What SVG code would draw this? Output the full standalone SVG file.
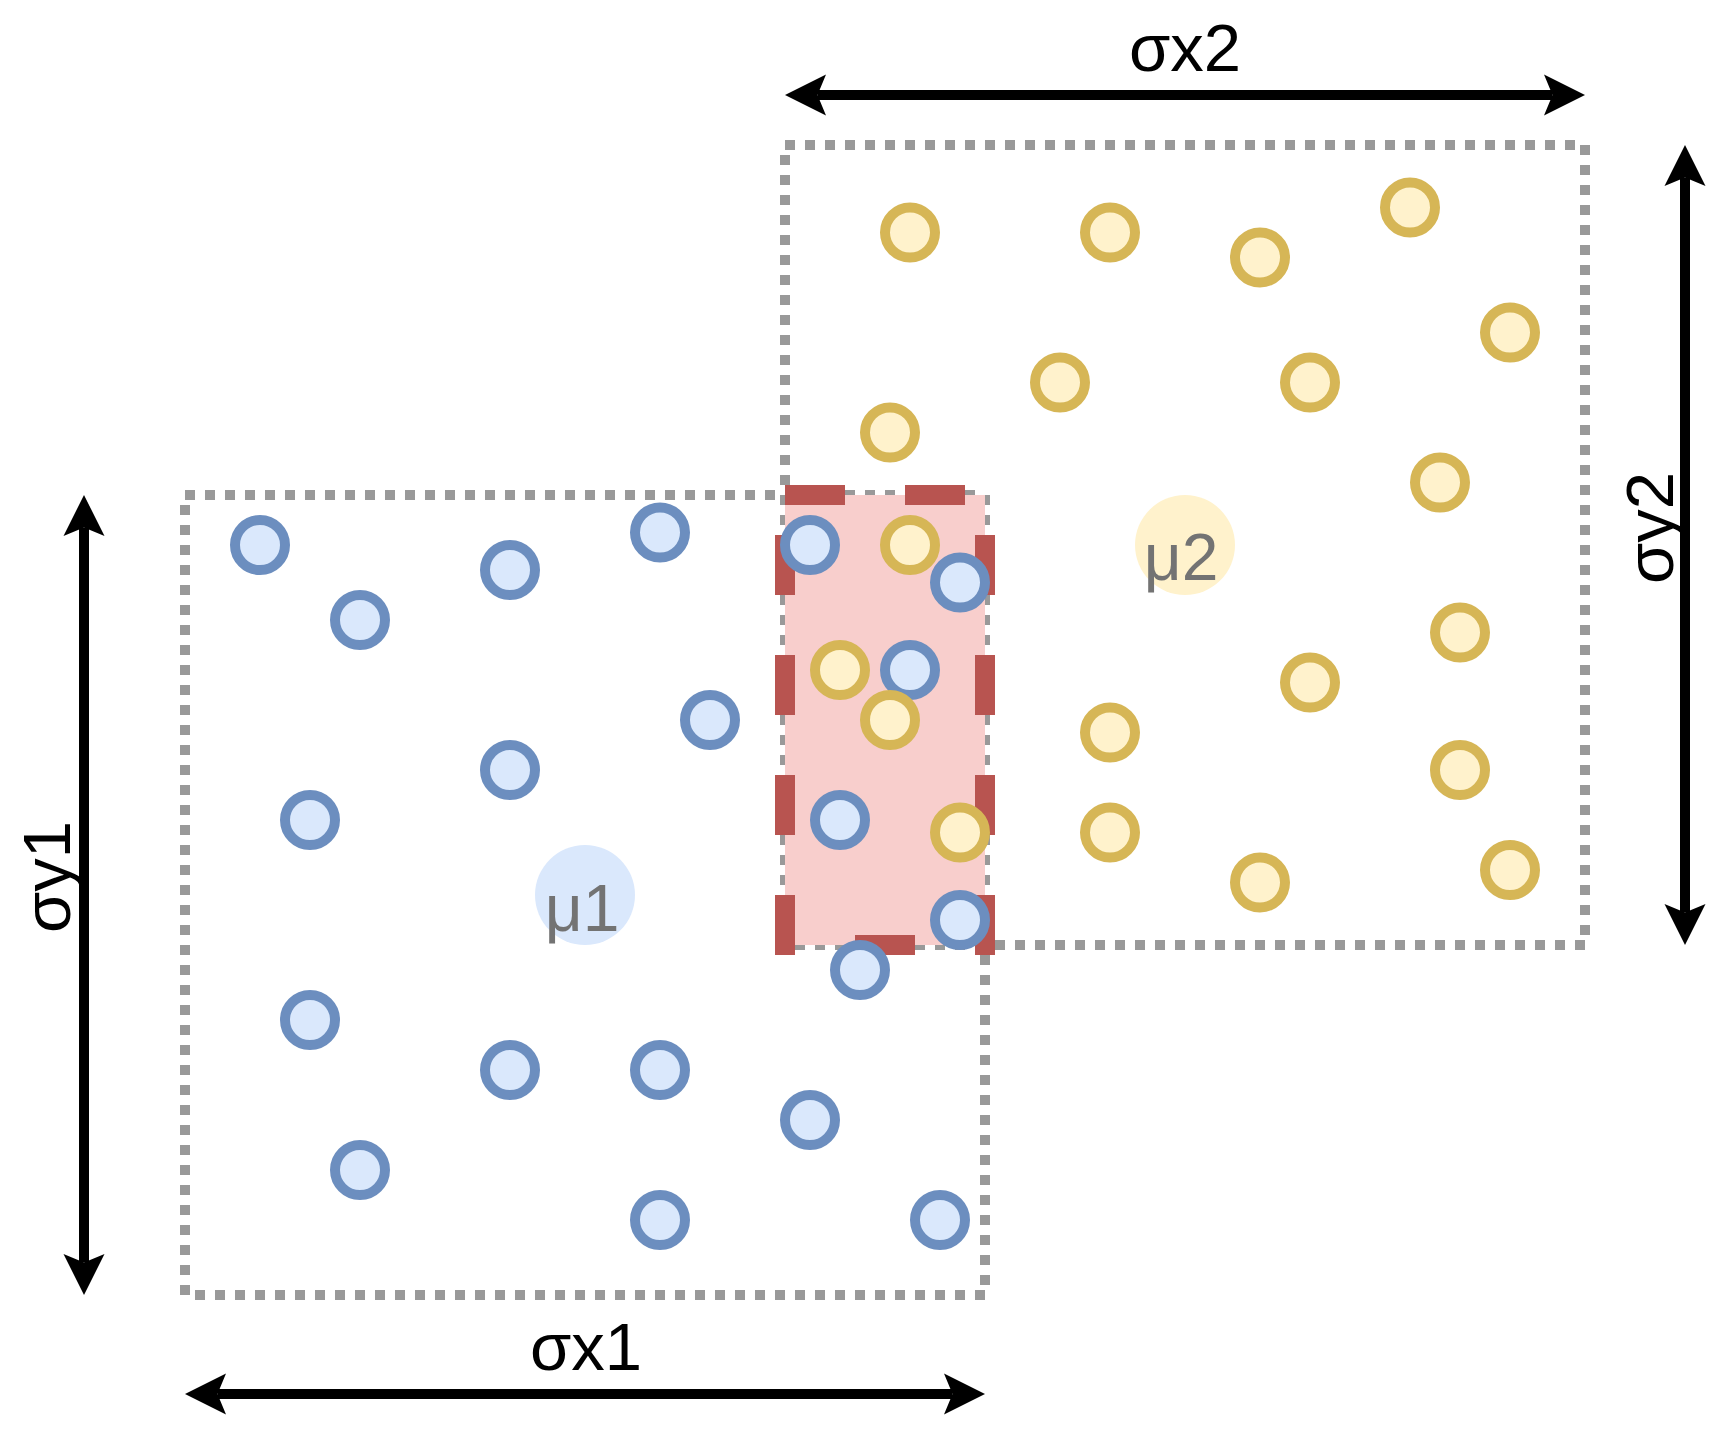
<svg xmlns="http://www.w3.org/2000/svg" width="1720" height="1430" viewBox="0 0 1720 1430">
<style>
.box{fill:none;stroke:#999999;stroke-width:10;stroke-dasharray:10 10}
.ov{fill:#f8cecc;stroke:#b85450;stroke-width:20;stroke-dasharray:60 60}
.b{fill:#dae8fc;stroke:#6c8ebf;stroke-width:10}
.y{fill:#fff2cc;stroke:#d6b656;stroke-width:10}
.dim{stroke:#000;stroke-width:10;fill:none;marker-start:url(#ah);marker-end:url(#ah)}
.lbl{font-family:"Liberation Sans",Arial,sans-serif;font-size:67px;fill:#000;text-anchor:middle}
.mu{font-family:"Liberation Sans",Arial,sans-serif;font-size:66px;fill:#737373;text-anchor:middle}
</style>
<defs>
<marker id="ah" markerUnits="userSpaceOnUse" markerWidth="41" markerHeight="41" viewBox="0 0 41 41" refX="8.5" refY="20.5" orient="auto-start-reverse" overflow="visible">
<path d="M0,0 L41,20.5 L0,41 L8.5,20.5 Z" fill="#000"/>
</marker>
</defs>
<rect width="1720" height="1430" fill="#fff"/>
<g id="region1"><rect class="box" x="185" y="495" width="800" height="800"/></g>
<g id="region2"><rect class="box" x="785" y="145" width="800" height="800"/></g>
<g id="overlap"><rect class="ov" x="785" y="495" width="200" height="450"/></g>
<g id="mean1"><circle cx="585" cy="895" r="50" fill="#dae8fc"/><text class="mu" x="582" y="931">μ1</text></g>
<g id="mean2"><circle cx="1185" cy="545" r="50" fill="#fff2cc"/><text class="mu" x="1181" y="580">μ2</text></g>
<g id="blue-points">
<circle class="b" cx="260" cy="545" r="25"/>
<circle class="b" cx="360" cy="620" r="25"/>
<circle class="b" cx="510" cy="570" r="25"/>
<circle class="b" cx="660" cy="532.5" r="25"/>
<circle class="b" cx="710" cy="720" r="25"/>
<circle class="b" cx="510" cy="770" r="25"/>
<circle class="b" cx="310" cy="820" r="25"/>
<circle class="b" cx="310" cy="1020" r="25"/>
<circle class="b" cx="510" cy="1070" r="25"/>
<circle class="b" cx="660" cy="1070" r="25"/>
<circle class="b" cx="810" cy="1120" r="25"/>
<circle class="b" cx="360" cy="1170" r="25"/>
<circle class="b" cx="660" cy="1220" r="25"/>
<circle class="b" cx="940" cy="1220" r="25"/>
<circle class="b" cx="860" cy="970" r="25"/>
<circle class="b" cx="960" cy="920" r="25"/>
<circle class="b" cx="840" cy="820" r="25"/>
<circle class="b" cx="910" cy="670" r="25"/>
<circle class="b" cx="810" cy="545" r="25"/>
</g>
<g id="yellow-points">
<circle class="y" cx="910" cy="232.5" r="25"/>
<circle class="y" cx="1110" cy="232.5" r="25"/>
<circle class="y" cx="1260" cy="257.5" r="25"/>
<circle class="y" cx="1410" cy="207.5" r="25"/>
<circle class="y" cx="1510" cy="332.5" r="25"/>
<circle class="y" cx="1060" cy="382.5" r="25"/>
<circle class="y" cx="1310" cy="382.5" r="25"/>
<circle class="y" cx="890" cy="432.5" r="25"/>
<circle class="y" cx="1440" cy="482.5" r="25"/>
<circle class="y" cx="1460" cy="632.5" r="25"/>
<circle class="y" cx="1310" cy="682.5" r="25"/>
<circle class="y" cx="1110" cy="732.5" r="25"/>
<circle class="y" cx="1460" cy="770" r="25"/>
<circle class="y" cx="1110" cy="832.5" r="25"/>
<circle class="y" cx="1260" cy="882.5" r="25"/>
<circle class="y" cx="1510" cy="870" r="25"/>
<circle class="y" cx="910" cy="545" r="25"/>
<circle class="y" cx="840" cy="670" r="25"/>
<circle class="y" cx="890" cy="720" r="25"/>
<circle class="y" cx="960" cy="832.5" r="25"/>
</g>
<g id="blue-point-top"><circle class="b" cx="960" cy="582.5" r="25"/></g>
<g id="connectors">
<line class="dim" x1="817.5" y1="95" x2="1552.5" y2="95"/>
<line class="dim" x1="217.5" y1="1394" x2="952.5" y2="1394"/>
<line class="dim" x1="84" y1="527.5" x2="84" y2="1262.5"/>
<line class="dim" x1="1685" y1="177.5" x2="1685" y2="912.5"/>
</g>
<g id="labels">
<text class="lbl" x="1185" y="71">σx2</text>
<text class="lbl" x="586" y="1370">σx1</text>
<text class="lbl" transform="translate(70,877) rotate(-90)">σy1</text>
<text class="lbl" transform="translate(1673,528) rotate(-90)">σy2</text>
</g>
</svg>
